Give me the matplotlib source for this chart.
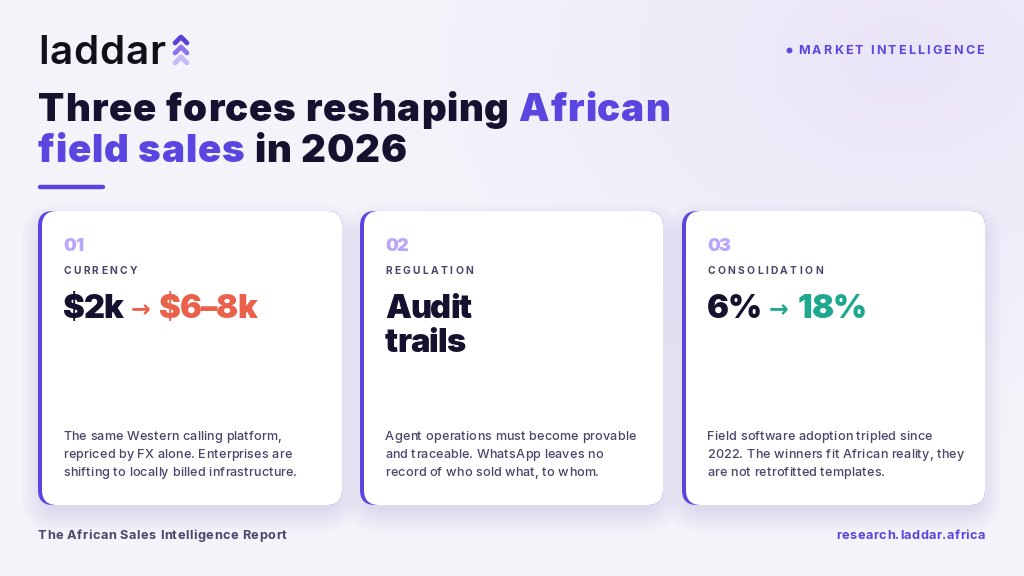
import matplotlib
matplotlib.use('Agg')
import matplotlib.pyplot as plt
from matplotlib.patches import FancyBboxPatch
from matplotlib import font_manager as fm
from matplotlib.font_manager import FontProperties
import numpy as np

# ---------------- data ----------------
brand = "laddar"
tag_text = "MARKET INTELLIGENCE"
title_line1 = [("Three forces reshaping ", "dark"), ("African", "purple")]
title_line2 = [("field sales", "purple"), (" in 2026", "dark")]
card_numbers = ["01", "02", "03"]
card_labels = ["CURRENCY", "REGULATION", "CONSOLIDATION"]
card_stats = [
    [[("$2k", "dark"), ("→", "orange"), ("$6–8k", "orange")]],
    [[("Audit", "dark")], [("trails", "dark")]],
    [[("6%", "dark"), ("→", "teal"), ("18%", "teal")]],
]
card_texts = [
    ["The same Western calling platform,",
     "repriced by FX alone. Enterprises are",
     "shifting to locally billed infrastructure."],
    ["Agent operations must become provable",
     "and traceable. WhatsApp leaves no",
     "record of who sold what, to whom."],
    ["Field software adoption tripled since",
     "2022. The winners fit African reality, they",
     "are not retrofitted templates."],
]
footer_left = "The African Sales Intelligence Report"
footer_right = "research.laddar.africa"

COL = {"dark": "#15122f", "purple": "#5b45e0", "orange": "#e9604b",
       "teal": "#1ea88f", "muted": "#4b4569", "num": "#b9a8fa"}


# ---------------- fonts ----------------
def wnum(v):
    if isinstance(v, str):
        return fm.weight_dict.get(v, 400)
    return int(v)


SUFFIXES = ['', ' Thin', ' ExtraLight', ' Light', ' Regular', ' Medium', ' SemiBold',
            ' Bold', ' ExtraBold', ' Black', ' Heavy', ' Semibold', ' Extrabold']


def pick_family():
    for fam in ['Montserrat', 'Inter', 'Noto Sans', 'Lato', 'Open Sans', 'Roboto']:
        names = set(fam + s for s in SUFFIXES)
        ents = [f for f in fm.fontManager.ttflist
                if f.name in names and f.style == 'normal']
        ws = set(wnum(f.weight) for f in ents)
        if len(ws) >= 3 and max(ws) >= 700 and min(ws) <= 500:
            return ents
    return None


ENTS = pick_family()


def FP(target):
    if ENTS is None:
        return FontProperties(family='DejaVu Sans', weight=target)
    best = min(ENTS, key=lambda f: (abs(wnum(f.weight) - target), f.fname))
    return FontProperties(fname=best.fname)


F_BLACK = FP(900)
F_BOLD = FP(700)
F_SEMI = FP(600)
F_MED = FP(500)
F_ARROW = FontProperties(family='DejaVu Sans', weight='bold')

W, H = 1024, 576
fig = plt.figure(figsize=(10.24, 5.76), dpi=100)
ax = fig.add_axes([0, 0, 1, 1])
ax.set_xlim(0, W)
ax.set_ylim(H, 0)
ax.axis('off')
renderer = fig.canvas.get_renderer()

# background gradient
yy, xx = np.mgrid[0:H:2, 0:W:2]
base = np.array([0xf4, 0xf3, 0xfa]) / 255.0
tint = np.array([0xe9, 0xe5, 0xf8]) / 255.0
d = np.sqrt(((xx - 900) / 520.0) ** 2 + ((yy - 60) / 380.0) ** 2)
wgt = np.clip(1 - d, 0, 1) ** 1.2
img = base[None, None, :] * (1 - wgt[..., None]) + tint[None, None, :] * wgt[..., None]
ax.imshow(img, extent=(0, W, H, 0), aspect='auto', zorder=0, interpolation='bilinear')
ax.set_xlim(0, W)
ax.set_ylim(H, 0)

_cache = {}


def tw(s, size, fp):
    t = ax.text(0, 0, s, fontproperties=fp, fontsize=size)
    w = t.get_window_extent(renderer).width
    t.remove()
    return w


def adv(s, size, fp):
    key = (s, size, fp.get_file() if fp.get_file() else str(fp))
    if key not in _cache:
        _cache[key] = tw("H" + s + "H", size, fp) - tw("HH", size, fp)
    return _cache[key]


def put(x, y, s, size, fp, color, ha='left', z=5):
    return ax.text(x, y, s, fontproperties=fp, fontsize=size, color=color,
                   va='baseline', ha=ha, zorder=z)


def natural(s, size, fp):
    return sum(adv(c, size, fp) for c in s)


def fit_spacing(s, size, fp, target):
    return (target - natural(s, size, fp)) / (len(s) - 1)


def spaced(x, y, s, size, fp, color, spacing, ha='left', z=5):
    advs = [adv(c, size, fp) for c in s]
    total = sum(advs) + spacing * (len(s) - 1)
    if ha == 'right':
        x -= total
    x_start = x
    for c, a in zip(s, advs):
        if c != ' ':
            put(x, y, c, size, fp, color, z=z)
        x += a + spacing
    return x_start, x - spacing


def segs(x, y, parts, size, fp, spacing=0.0, z=5):
    for txt, col in parts:
        _, x = spaced(x, y, txt, size, fp, COL[col], spacing, z=z)
        x += spacing
    return x


# ---------------- header ----------------
S_LOGO = 29
sp_logo = fit_spacing(brand, S_LOGO, F_SEMI, 127)
spaced(38, 64, brand, S_LOGO, F_SEMI, "#111018", sp_logo)
chev_cols = ["#5b3fd6", "#8e73f0", "#c5b9f6"]
for i, c in enumerate(chev_cols):
    y0 = 37 + i * 10
    ax.plot([175, 181, 187], [y0 + 6, y0, y0 + 6], color=c, lw=3.4,
            solid_capstyle='round', solid_joinstyle='round', zorder=5)

S_TAG = 9
sp_tag = fit_spacing(tag_text, S_TAG, F_BOLD, 186)
xs, _ = spaced(984, 54, tag_text, S_TAG, F_BOLD, COL["purple"], sp_tag, ha='right')
ax.plot([xs - 9], [49.5], 'o', color=COL["purple"], ms=3.2, zorder=5)

S_TITLE = 27.7
title1_str = "".join(t for t, _ in title_line1)
sp_title = fit_spacing(title1_str, S_TITLE, F_BLACK, 632)
segs(38, 121, title_line1, S_TITLE, F_BLACK, sp_title)
segs(38, 162, title_line2, S_TITLE, F_BLACK, sp_title)
ax.plot([40, 103], [186.5, 186.5], color=COL["purple"], lw=3.2,
        solid_capstyle='round', zorder=5)

# ---------------- cards ----------------
S_STAT, S_NUM, S_LAB, S_BODY, S_ARROW = 23.5, 13, 7.4, 9.1, 17
sp_stat = np.mean([fit_spacing("$6–8k", S_STAT, F_BLACK, 102),
                   fit_spacing("18%", S_STAT, F_BLACK, 64),
                   fit_spacing("Audit", S_STAT, F_BLACK, 93)])
sp_body = fit_spacing("shifting to locally billed infrastructure.", S_BODY, F_MED, 234)
sp_lab = fit_spacing("CURRENCY", S_LAB, F_BOLD, 74)
sp_num = fit_spacing("01", S_NUM, F_BLACK, 20)

cards_x = [(38, 342), (360, 663), (682, 985)]
top, bottom = 211, 505
for k, (x0, x1) in enumerate(cards_x):
    w, h = x1 - x0, bottom - top
    # soft shadow
    for j in range(12):
        e = 1 + j * 2.0
        sh = FancyBboxPatch((x0 - e + 6, top - e + 16), w + 2 * e - 12, h + 2 * e - 12,
                            boxstyle="round,pad=0,rounding_size=%f" % (14 + e),
                            fc="#4b3c9a", ec='none', alpha=0.006, zorder=1)
        ax.add_patch(sh)
    acc = FancyBboxPatch((x0, top), w, h, boxstyle="round,pad=0,rounding_size=15",
                         fc=COL["purple"], ec='none', zorder=2)
    ax.add_patch(acc)
    card = FancyBboxPatch((x0 + 4, top), w - 4, h, boxstyle="round,pad=0,rounding_size=15",
                          fc="white", ec='none', zorder=3)
    ax.add_patch(card)

    cx = x0 + 25
    spaced(cx, 251, card_numbers[k], S_NUM, F_BLACK, COL["num"], sp_num)
    spaced(cx, 274.5, card_labels[k], S_LAB, F_BOLD, COL["muted"], sp_lab)

    for li, line in enumerate(card_stats[k]):
        by = 318 + li * 34
        xx_ = cx
        for pi, (txt, col) in enumerate(line):
            if txt == "→":
                put(xx_ + 7, by - 2, txt, S_ARROW, F_ARROW, COL[col])
                xx_ += adv(txt, S_ARROW, F_ARROW) + 16
            else:
                _, xx_ = spaced(xx_, by, txt, S_STAT, F_BLACK, COL[col], sp_stat)

    for li, line in enumerate(card_texts[k]):
        spaced(cx, 440 + li * 18, line, S_BODY, F_MED, COL["muted"], sp_body)

# ---------------- footer ----------------
S_FOOT = 9.2
sp_foot = fit_spacing(footer_left, S_FOOT, F_BOLD, 248)
spaced(38, 539, footer_left, S_FOOT, F_BOLD, COL["muted"], sp_foot)
spaced(985, 539, footer_right, S_FOOT, F_BOLD, COL["purple"], sp_foot, ha='right')

fig.savefig("out.png", dpi=100)
